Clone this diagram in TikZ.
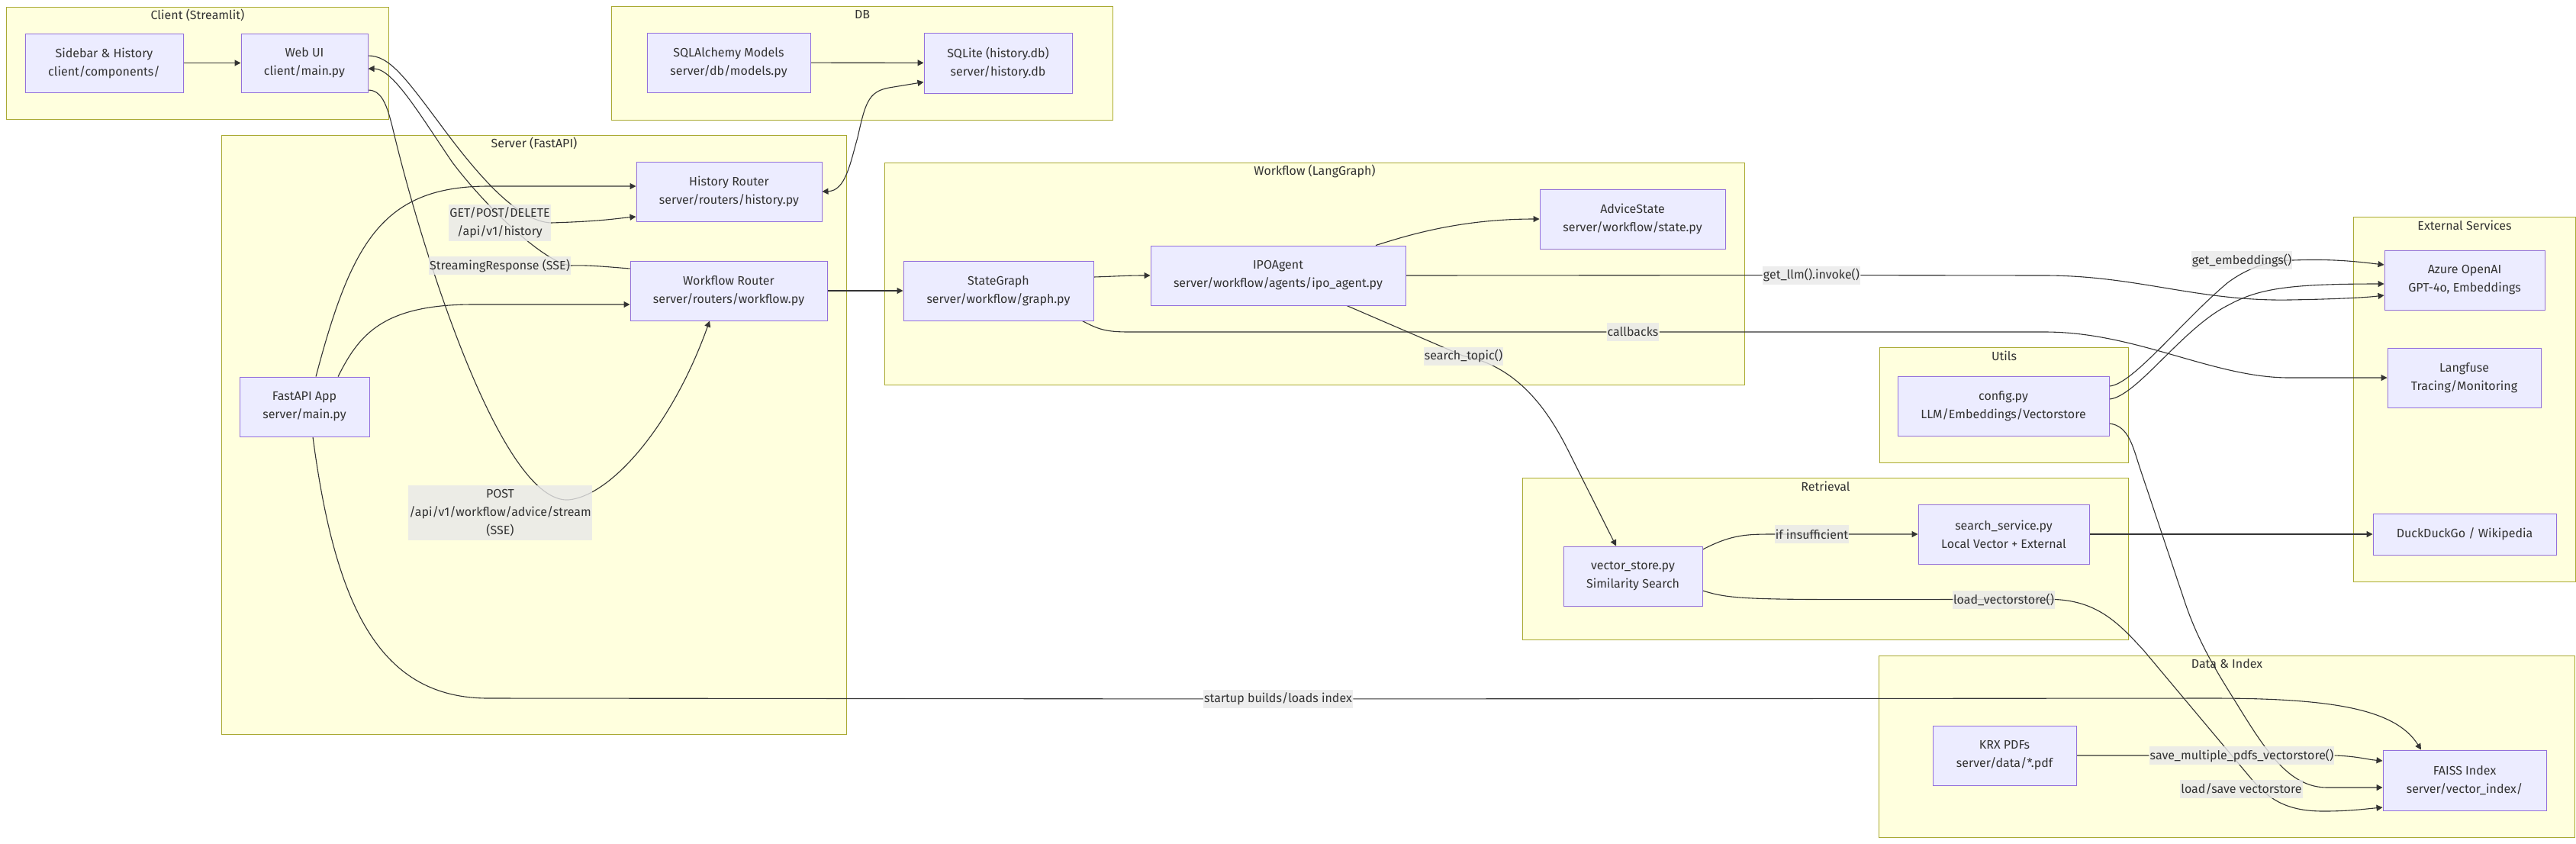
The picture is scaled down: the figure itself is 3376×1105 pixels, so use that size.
\documentclass[tikz,border=0pt]{standalone}
\usepackage{fontspec}
\setmainfont{Fira Sans}
\usetikzlibrary{arrows.meta,calc}
\definecolor{clFill}{HTML}{FFFFDE}
\definecolor{clLine}{HTML}{AAAA33}
\definecolor{ndFill}{HTML}{ECECFF}
\definecolor{ndLine}{HTML}{9370DB}
\definecolor{txt}{HTML}{333333}
\definecolor{lblBg}{HTML}{E8E8E8}
\pgfdeclarelayer{bg}
\pgfdeclarelayer{edges}
\pgfsetlayers{bg,edges,main}
\begin{document}
\begin{tikzpicture}[x=0.5pt,y=-0.5pt,
  font=\fontsize{8}{12}\selectfont, text=txt,
  cl/.style 2 args={draw=clLine, fill=clFill, line width=0.5pt, inner sep=0pt,
    minimum width=#1*0.5pt, minimum height=#2*0.5pt, anchor=north west},
  cltitle/.style={inner sep=0pt},
  nd/.style 2 args={draw=ndLine, fill=ndFill, line width=0.5pt, align=center, inner sep=0pt,
    minimum width=#1*0.5pt, minimum height=#2*0.5pt},
  lbl/.style={fill=lblBg, fill opacity=0.8, text opacity=1, inner xsep=0.5pt, inner ysep=0pt,
    align=center, minimum height=12pt},
  edge/.style={draw=txt, line width=0.55pt, -{Triangle[length=4pt,width=4pt]}},
  biedge/.style={draw=txt, line width=0.55pt, {Triangle[length=4pt,width=4pt]}-{Triangle[length=4pt,width=4pt]}}
]
\useasboundingbox (0,0) rectangle (3376,1105);

% ---------- clusters ----------
\begin{pgfonlayer}{bg}
\node[cl={501}{147}] (client) at (8,9) {};
\node[cltitle] (client-t) at ($(client.north)+(0,11)$) {Client (Streamlit)};
\node[cl={657}{149}] (db) at (801,8) {};
\node[cltitle] (db-t) at ($(db.north)+(0,11)$) {DB};
\node[cl={819}{785}] (server) at (290,177) {};
\node[cltitle] (server-t) at ($(server.north)+(0,11)$) {Server (FastAPI)};
\node[cl={1127}{291}] (workflow) at (1159,213) {};
\node[cltitle] (workflow-t) at ($(workflow.north)+(0,11)$) {Workflow (LangGraph)};
\node[cl={326}{151}] (utils) at (2463,455) {};
\node[cltitle] (utils-t) at ($(utils.north)+(0,11)$) {Utils};
\node[cl={794}{212}] (retrieval) at (1995,626) {};
\node[cltitle] (retrieval-t) at ($(retrieval.north)+(0,11)$) {Retrieval};
\node[cl={291}{478}] (external) at (3084,284) {};
\node[cltitle] (external-t) at ($(external.north)+(0,11)$) {External Services};
\node[cl={912}{238}] (data) at (2462,859) {};
\node[cltitle] (data-t) at ($(data.north)+(0,11)$) {Data \& Index};
\end{pgfonlayer}

% ---------- nodes ----------
\node[nd={207}{77}] (sidebar) at (136.5,82.5) {Sidebar \& History\\client/components/};
\node[nd={166}{77}] (webui) at (399,82.5) {Web UI\\client/main.py};
\node[nd={214}{78}] (sqla) at (955,82) {SQLAlchemy Models\\server/db/models.py};
\node[nd={194}{79}] (sqlite) at (1308,82.5) {SQLite (history.db)\\server/history.db};
\node[nd={243}{78}] (hist) at (955.5,251) {History Router\\server/routers/history.py};
\node[nd={258}{78}] (wfr) at (955,381) {Workflow Router\\server/routers/workflow.py};
\node[nd={170}{78}] (fastapi) at (399,533) {FastAPI App\\server/main.py};
\node[nd={249}{78}] (stategraph) at (1308.5,381) {StateGraph\\server/workflow/graph.py};
\node[nd={334}{78}] (ipo) at (1675,361) {IPOAgent\\server/workflow/agents/ipo\_agent.py};
\node[nd={243}{78}] (advice) at (2139.5,287) {AdviceState\\server/workflow/state.py};
\node[nd={277}{78}] (config) at (2625.5,532) {config.py\\LLM/Embeddings/Vectorstore};
\node[nd={182}{78}] (vstore) at (2140,755) {vector\_store.py\\Similarity Search};
\node[nd={224}{78}] (search) at (2626,700) {search\_service.py\\Local Vector + External};
\node[nd={210}{78}] (azure) at (3230,367) {Azure OpenAI\\GPT-4o, Embeddings};
\node[nd={201}{78}] (langfuse) at (3229.5,495) {Langfuse\\Tracing/Monitoring};
\node[nd={240}{54}] (ddg) at (3230,700) {DuckDuckGo / Wikipedia};
\node[nd={188}{78}] (krx) at (2627,990) {KRX PDFs\\server/data/*.pdf};
\node[nd={214}{79}] (faiss) at (3230,1022.5) {FAISS Index\\server/vector\_index/};

% ---------- edge labels ----------
\node[lbl, minimum height=24pt] (lget) at (655,292) {GET/POST/DELETE\\/api/v1/history};
\node[lbl] (lstream) at (655,348) {StreamingResponse (SSE)};
\node[lbl, minimum height=36pt] (lpost) at (655.5,672) {POST\\/api/v1/workflow/advice/stream\\(SSE)};
\node[lbl] (lstartup) at (1675,916) {startup builds/loads index};
\node[lbl] (lcallbacks) at (2140,435) {callbacks};
\node[lbl] (lsearch) at (1918,466.5) {search\_topic()};
\node[lbl] (lgetllm) at (2374,360.5) {get\_llm().invoke()};
\node[lbl] (lif) at (2374.5,700) {if insufficient};
\node[lbl] (lload) at (2626,785.5) {load\_vectorstore()};
\node[lbl] (lemb) at (2938,341) {get\_embeddings()};
\node[lbl] (lsave) at (2938,990) {save\_multiple\_pdfs\_vectorstore()};
\node[lbl] (lloadsave) at (2937.5,1034) {load/save vectorstore};

% ---------- edges ----------
\begin{pgfonlayer}{edges}
\draw[edge] (sidebar) -- (webui);
\draw[edge] (sqla) -- (sqlite);
\draw[biedge] (hist.east) .. controls (1108,250) and (1114,215) .. (1124,180)
  .. controls (1134,135) and (1138,120) .. (1165,115) -- ($(sqlite.west)+(0,25)$);
% Web UI -> History Router
\draw[edge] ($(webui.east)+(0,-9.5)$) .. controls (510,73) and (530,100) .. (577,163)
  .. controls (630,235) and (680,290) .. (lget.east)
  .. controls (790,290) and (810,286) .. ($(hist.west)+(0,33)$);
% Workflow Router -> Web UI
\draw[edge] ($(wfr.west)+(0,-29)$) .. controls (800,350) and (770,347) .. (lstream.east)
  .. controls (715,345) and (640,275) .. (593,213)
  .. controls (550,150) and (515,90) .. ($(webui.east)+(0,7.5)$);
% Web UI -> Workflow Router
\draw[edge] ($(webui.east)+(0,35.5)$) .. controls (505,118) and (510,150) .. (520,190)
  .. controls (560,350) and (660,660) .. (745,655)
  .. controls (800,650) and (880,560) .. ($(wfr.south)+(-25,0)$);
% FastAPI -> routers
\draw[edge] ($(fastapi.north)+(15,0)$) .. controls (460,320) and (500,244) .. (640,244) -- ($(hist.west)+(0,-7)$);
\draw[edge] ($(fastapi.north)+(44,0)$) .. controls (470,440) and (500,399) .. (620,399) -- ($(wfr.west)+(0,18)$);
% FastAPI -> FAISS
\draw[edge] ($(fastapi.south)+(11,0)$) .. controls (440,800) and (500,915) .. (640,915)
  -- (lstartup) -- (2900,915) .. controls (3060,915) and (3140,930) .. ($(faiss.north)+(-57,0)$);
% workflow
\draw[edge] (wfr) -- (stategraph);
\draw[edge] ($(stategraph.east)+(0,-18)$) .. controls (1465,362) and (1475,361) .. (ipo.west);
\draw[edge] ($(ipo.north)+(128,0)$) .. controls (1840,310) and (1910,287) .. (advice.west);
\draw[edge] (ipo.east) -- (lgetllm) -- (2680,361) .. controls (2800,361) and (2880,395) .. (3000,393)
  .. controls (3060,392) and (3100,390) .. ($(azure.west)+(0,20)$);
\draw[edge] ($(stategraph.south)+(110,0)$) .. controls (1440,432) and (1450,435) .. (1480,435)
  -- (lcallbacks) -- (2680,435) .. controls (2800,435) and (2900,495) .. (3000,495) -- (langfuse.west);
\draw[edge] ($(ipo.south)+(90,0)$) -- (lsearch.center) .. controls (1990,480) and (2030,540) .. (2055,590)
  -- ($(vstore.north)+(-22,0)$);
% retrieval
\draw[edge] ($(vstore.east)+(0,-35)$) .. controls (2270,700) and (2290,700) .. (lif.west) -- (search.west);
\draw[edge] (search) -- (ddg);
\draw[edge] ($(vstore.east)+(0,19)$) .. controls (2270,786) and (2290,786) .. (lload.west) -- (lload.east)
  .. controls (2750,788) and (2778,818) .. (2810,853) -- (2950,1020)
  .. controls (2975,1050) and (3000,1063) .. (3045,1063)
  .. controls (3080,1063) and (3100,1060) .. ($(faiss.west)+(0,35.5)$);
% config
\draw[edge] ($(config.east)+(0,-26)$) .. controls (2795,504) and (2860,420) .. (2920,370)
  .. controls (2950,348) and (2980,341) .. (lemb.east)
  .. controls (3060,339) and (3090,343) .. ($(azure.west)+(0,-20)$);
\draw[edge] ($(config.east)+(0,-9)$) .. controls (2800,520) and (2860,430) .. (2920,400)
  .. controls (2960,378) and (3000,372) .. ($(azure.west)+(0,5)$);
\draw[edge] ($(config.east)+(0,23)$) .. controls (2790,558) and (2795,585) .. (2805,615) -- (2862,785)
  .. controls (2880,840) and (2905,880) .. (2930,920)
  .. controls (2970,985) and (3000,1032) .. (3050,1032) -- ($(faiss.west)+(0,9.5)$);
% data
\draw[edge] (krx.east) -- (lsave) -- (lsave.east) .. controls (3090,991) and (3100,995) .. ($(faiss.west)+(0,-25.5)$);
\end{pgfonlayer}
\end{tikzpicture}
\end{document}
